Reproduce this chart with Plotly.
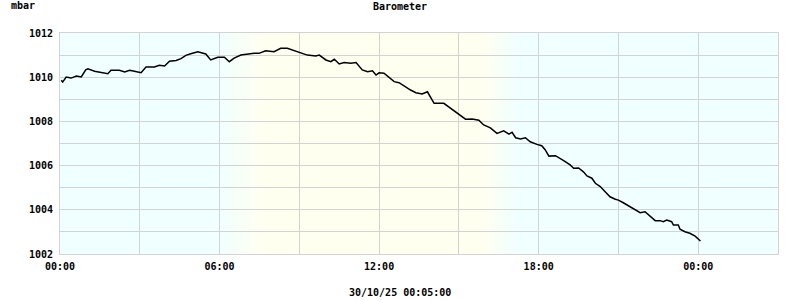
import pandas as pd
import plotly.graph_objects as go

# minutes since 29/10/25 00:00
minutes = [3, 6, 14, 25, 37, 48, 58, 63, 78, 93, 108, 115, 134, 146, 157, 168, 183, 194, 213, 224,
           236, 247, 262, 273, 284, 295, 311, 329, 340, 356, 371, 382, 393, 408, 423, 438, 449, 464,
           483, 498, 513, 528, 543, 558, 577, 585, 600, 611, 619, 630, 641, 656, 668, 675, 682, 694,
           705, 713, 720, 731, 743, 754, 765, 776, 791, 803, 817, 829, 836, 844, 866, 874, 881, 896,
           907, 915, 930, 945, 956, 971, 986, 1001, 1013, 1020, 1028, 1039, 1050, 1061, 1076, 1087,
           1095, 1103, 1118, 1129, 1140, 1151, 1159, 1170, 1181, 1189, 1200, 1208, 1219, 1230, 1241,
           1253, 1260, 1271, 1286, 1298, 1309, 1320, 1331, 1343, 1354, 1361, 1369, 1380, 1384, 1395,
           1399, 1410, 1421, 1433, 1445]
pressure = [1009.86, 1009.78, 1010.01, 1009.96, 1010.05, 1010.01, 1010.33, 1010.38, 1010.27, 1010.20,
            1010.16, 1010.31, 1010.31, 1010.24, 1010.31, 1010.27, 1010.20, 1010.46, 1010.46, 1010.54,
            1010.51, 1010.72, 1010.76, 1010.84, 1010.99, 1011.06, 1011.15, 1011.05, 1010.78, 1010.90,
            1010.90, 1010.70, 1010.86, 1011.00, 1011.05, 1011.08, 1011.08, 1011.20, 1011.15, 1011.31,
            1011.31, 1011.20, 1011.08, 1011.00, 1010.96, 1011.00, 1010.78, 1010.70, 1010.81, 1010.60,
            1010.66, 1010.63, 1010.66, 1010.48, 1010.33, 1010.25, 1010.29, 1010.10, 1010.20, 1010.18,
            1010.00, 1009.80, 1009.75, 1009.60, 1009.42, 1009.30, 1009.24, 1009.34, 1009.12, 1008.82,
            1008.82, 1008.70, 1008.59, 1008.37, 1008.21, 1008.10, 1008.11, 1008.05, 1007.84, 1007.71,
            1007.46, 1007.57, 1007.42, 1007.51, 1007.26, 1007.20, 1007.26, 1007.08, 1006.96, 1006.90,
            1006.71, 1006.43, 1006.45, 1006.33, 1006.18, 1006.03, 1005.88, 1005.89, 1005.72, 1005.53,
            1005.43, 1005.20, 1005.05, 1004.82, 1004.59, 1004.48, 1004.44, 1004.32, 1004.14, 1004.02,
            1003.87, 1003.91, 1003.72, 1003.51, 1003.51, 1003.46, 1003.54, 1003.46, 1003.31, 1003.31,
            1003.12, 1003.01, 1002.94, 1002.81, 1002.59]

title_text = "Barometer"
unit_text = "mbar"
stamp_text = "30/10/25 00:05:00"
start = pd.Timestamp("2025-10-29 00:00")
x_end = pd.Timestamp("2025-10-30 03:00")
sunrise = (6.0, 7.6)   # hours: transition night->day
sunset = (15.9, 17.2)  # hours: transition day->night

times = [start + pd.Timedelta(minutes=m) for m in minutes]

NIGHT = (240, 255, 255)
DAY = (255, 255, 240)


def mix(a, b, t):
    return "rgb(%d,%d,%d)" % tuple(round(a[i] + (b[i] - a[i]) * t) for i in range(3))


shapes = []


def rect(h0, h1, color):
    shapes.append(dict(type="rect", xref="x", yref="paper",
                       x0=start + pd.Timedelta(hours=h0), x1=start + pd.Timedelta(hours=h1),
                       y0=0, y1=1, fillcolor=color, line=dict(width=0), layer="below"))


rect(-1, sunrise[0], mix(NIGHT, DAY, 0))
n = 24
for i in range(n):
    a = sunrise[0] + (sunrise[1] - sunrise[0]) * i / n
    b = sunrise[0] + (sunrise[1] - sunrise[0]) * (i + 1) / n + 0.01
    rect(a, b, mix(NIGHT, DAY, (i + 0.5) / n))
rect(sunrise[1], sunset[0], mix(NIGHT, DAY, 1))
for i in range(n):
    a = sunset[0] + (sunset[1] - sunset[0]) * i / n
    b = sunset[0] + (sunset[1] - sunset[0]) * (i + 1) / n + 0.01
    rect(a, b, mix(DAY, NIGHT, (i + 0.5) / n))
rect(sunset[1], 28, mix(NIGHT, DAY, 0))

font_family = "DejaVu Sans Mono"
grid = "#D3D3D3"

fig = go.Figure()
fig.add_trace(go.Scatter(x=times, y=pressure, mode="lines",
                         line=dict(color="black", width=1.5), showlegend=False))

fig.update_layout(
    width=800, height=300,
    margin=dict(l=60, r=22, t=33, b=46),
    paper_bgcolor="white", plot_bgcolor="white",
    shapes=shapes,
    font=dict(family=font_family, size=10, color="black"),
    title=dict(text=title_text, x=0.5, xref="container", xanchor="center",
               y=1 - 6 / 300, yref="container", yanchor="middle",
               font=dict(family=font_family, size=10, weight="bold")),
    annotations=[
        dict(text=unit_text, xref="paper", yref="paper", x=(9 - 60) / 718, y=1 + (33 - 6) / 221,
             xanchor="left", yanchor="middle", showarrow=False,
             font=dict(family=font_family, size=10, weight="bold")),
        dict(text=stamp_text, xref="paper", yref="paper", x=(400 - 60) / 718, y=-(292 - 254) / 221,
             xanchor="center", yanchor="middle", showarrow=False,
             font=dict(family=font_family, size=10, weight="bold")),
    ],
)

fig.update_xaxes(
    type="date", range=[start, x_end], tick0=start, dtick=6 * 3600 * 1000,
    tickformat="%H:%M", showgrid=True, gridcolor=grid, gridwidth=1,
    minor=dict(dtick=3 * 3600 * 1000, showgrid=True, gridcolor=grid, gridwidth=1),
    showline=True, linecolor=grid, mirror=True, zeroline=False,
    ticks="outside", ticklen=3, tickcolor="rgba(0,0,0,0)",
    tickfont=dict(family=font_family, size=10, weight="bold"),
)
fig.update_yaxes(
    range=[1002, 1012], tick0=1002, dtick=2, showgrid=True, gridcolor=grid, gridwidth=1,
    minor=dict(dtick=1, showgrid=True, gridcolor=grid, gridwidth=1),
    showline=True, linecolor=grid, mirror=True, zeroline=False,
    ticks="outside", ticklen=4, tickcolor="rgba(0,0,0,0)",
    tickfont=dict(family=font_family, size=10, weight="bold"),
)

fig.write_html("out.html")
